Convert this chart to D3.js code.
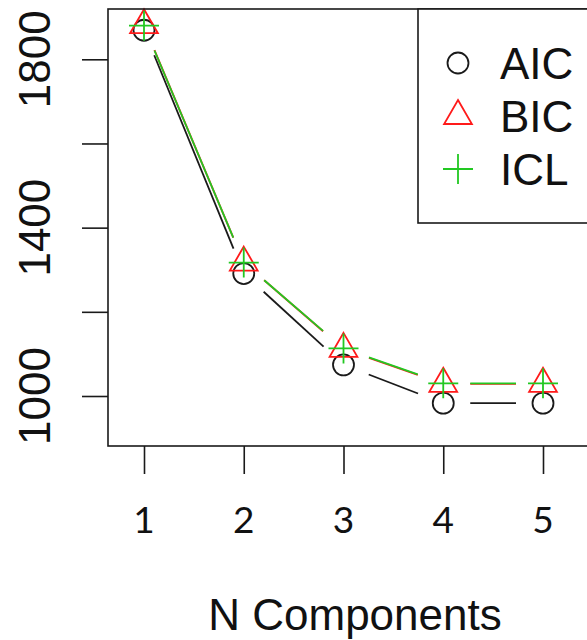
<!DOCTYPE html>
<html>
<head>
<meta charset="utf-8">
<script src="https://cdn.jsdelivr.net/npm/d3@7"></script>
<style>
  html, body { margin: 0; padding: 0; background: #fff; }
  svg { display: block; }
</style>
</head>
<body>
<script>
// Information criteria for mixture models with 1..5 components
const components = [1, 2, 3, 4, 5];
const aicValues = [1869, 1291, 1074, 983, 983];
const bicValues = [1881, 1317, 1112, 1029, 1029];
const iclValues = [1880, 1317, 1113, 1030, 1030];
const yTickValues = [1000, 1200, 1400, 1600, 1800];
const yTickLabels = ["1000", "", "1400", "", "1800"];
const seriesNames = ["AIC", "BIC", "ICL"];

const W = 587, H = 640;
const svg = d3.select("body").append("svg").attr("width", W).attr("height", H);

const box = { left: 108, top: 9, bottom: 446, right: 620 };
const x = d3.scaleLinear().domain([1, 5]).range([144, 543]);
const y = d3.scaleLinear().domain([1000, 1800]).range([396, 59.3]);

const BLACK = "#1a1a1a", RED = "#ff1a1a", GREEN = "#22c822";
const series = [
  { name: seriesNames[0], values: aicValues, color: BLACK, shape: "circle" },
  { name: seriesNames[1], values: bicValues, color: RED, shape: "triangle" },
  { name: seriesNames[2], values: iclValues, color: GREEN, shape: "plus" }
];

// Symbol paths centred at the origin
function symbolPath(shape) {
  if (shape === "circle") {
    const r = 10.5;
    return `M${-r},0A${r},${r} 0 1,0 ${r},0A${r},${r} 0 1,0 ${-r},0Z`;
  }
  if (shape === "triangle") {
    const r = 16, xc = 13.9, yc = 8;
    return `M0,${-r}L${xc},${yc}L${-xc},${yc}Z`;
  }
  const h = 15;
  return `M${-h},0L${h},0M0,${-h}L0,${h}`;
}

// Connecting segments with gaps around each point
const GAP = 27;
const plot = svg.append("g");
series.forEach(s => {
  const pts = components.map((c, i) => [x(c), y(s.values[i])]);
  const segs = [];
  for (let i = 0; i < pts.length - 1; i++) {
    const [x0, y0] = pts[i], [x1, y1] = pts[i + 1];
    const len = Math.hypot(x1 - x0, y1 - y0);
    if (len <= 2 * GAP) continue;
    const ux = (x1 - x0) / len, uy = (y1 - y0) / len;
    segs.push([[x0 + ux * GAP, y0 + uy * GAP], [x1 - ux * GAP, y1 - uy * GAP]]);
  }
  plot.selectAll(null).data(segs).enter().append("line")
    .attr("x1", d => d[0][0]).attr("y1", d => d[0][1])
    .attr("x2", d => d[1][0]).attr("y2", d => d[1][1])
    .attr("stroke", s.color).attr("stroke-width", 1.8);
});
series.forEach(s => {
  plot.selectAll(null).data(components).enter().append("path")
    .attr("d", symbolPath(s.shape))
    .attr("transform", (c, i) => `translate(${x(c)},${y(s.values[i])})`)
    .attr("fill", "none").attr("stroke", s.color).attr("stroke-width", 1.8);
});

// Plot frame
svg.append("rect")
  .attr("x", box.left).attr("y", box.top)
  .attr("width", box.right - box.left).attr("height", box.bottom - box.top)
  .attr("fill", "none").attr("stroke", BLACK).attr("stroke-width", 1.6);

// Y axis
const yAxis = d3.axisLeft(y).tickValues(yTickValues)
  .tickSize(26).tickFormat(() => "");
const gy = svg.append("g").attr("transform", `translate(${box.left},0)`).call(yAxis);
gy.select(".domain").remove();
gy.selectAll(".tick line").attr("stroke", BLACK).attr("stroke-width", 1.6);
svg.selectAll(null).data(yTickValues).enter().append("text")
  .attr("transform", d => `translate(50,${y(d)}) rotate(-90)`)
  .attr("text-anchor", "middle")
  .attr("font-family", "Liberation Sans, Arial, sans-serif")
  .attr("font-size", 44).attr("fill", "#111")
  .text((d, i) => yTickLabels[i]);

// X axis
const xAxis = d3.axisBottom(x).tickValues(components).tickSize(28).tickFormat(() => "");
const gx = svg.append("g").attr("transform", `translate(0,${box.bottom})`).call(xAxis);
gx.select(".domain").remove();
gx.selectAll(".tick line").attr("stroke", BLACK).attr("stroke-width", 1.6);
svg.selectAll(null).data(components).enter().append("text")
  .attr("x", d => x(d)).attr("y", 533)
  .attr("text-anchor", "middle")
  .attr("font-family", "Lato, 'Open Sans', sans-serif")
  .attr("font-size", 37).attr("fill", "#111")
  .text(d => d);

svg.append("text")
  .attr("x", 355).attr("y", 630)
  .attr("text-anchor", "middle")
  .attr("font-family", "Liberation Sans, Arial, sans-serif")
  .attr("font-size", 44).attr("fill", "#111")
  .text("N Components");

// Legend
const legend = svg.append("g");
legend.append("rect")
  .attr("x", 418).attr("y", box.top).attr("width", 200).attr("height", 223 - box.top)
  .attr("fill", "#fff").attr("stroke", BLACK).attr("stroke-width", 1.6);
const rowY = [63, 116, 169];
series.forEach((s, i) => {
  legend.append("path")
    .attr("d", symbolPath(s.shape))
    .attr("transform", `translate(458,${rowY[i]})`)
    .attr("fill", "none").attr("stroke", s.color).attr("stroke-width", 1.8);
  legend.append("text")
    .attr("x", 500).attr("y", rowY[i] + 15.5)
    .attr("font-family", "Liberation Sans, Arial, sans-serif")
    .attr("font-size", 44).attr("fill", "#111")
    .text(s.name);
});
</script>
</body>
</html>
